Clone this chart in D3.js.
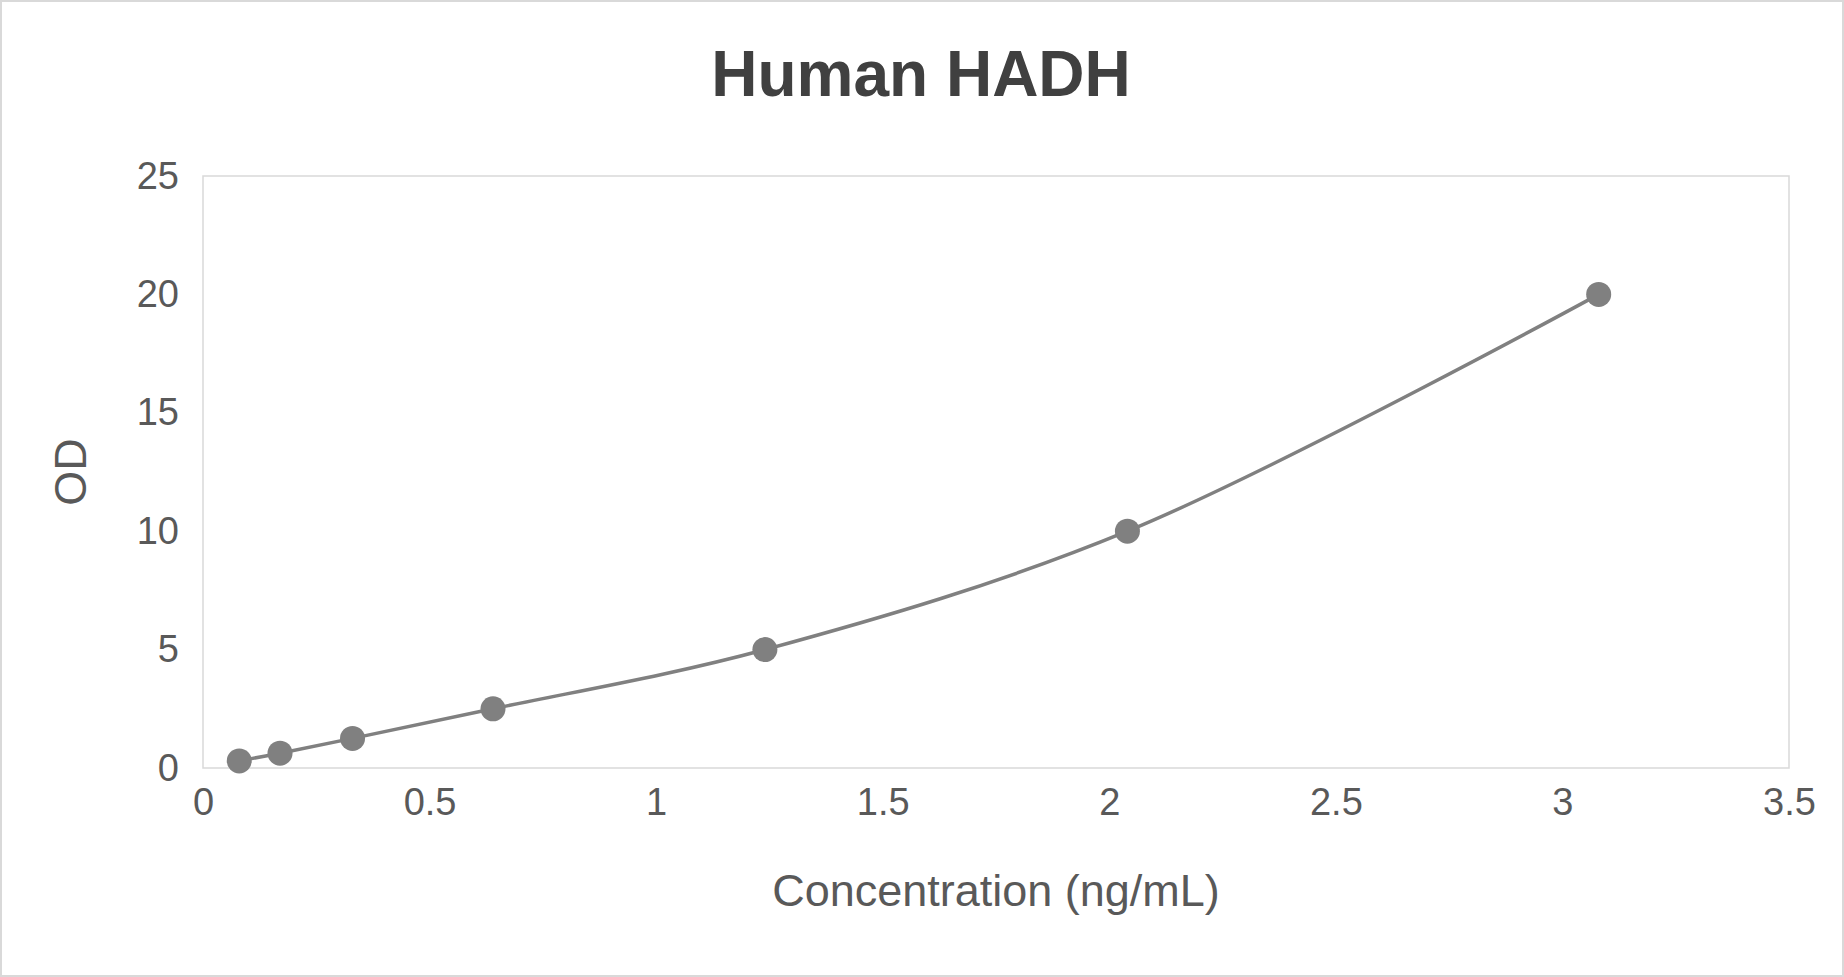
<!DOCTYPE html>
<html><head><meta charset="utf-8">
<script src="https://cdn.jsdelivr.net/npm/d3@7"></script>
<style>body{margin:0;background:#fff;font-family:"Liberation Sans",Arial,sans-serif}</style>
</head><body><svg id="c" width="1844" height="977"></svg>
<script>
const concentration = [0.08, 0.17, 0.33, 0.64, 1.24, 2.04, 3.08];
const od = [0.3, 0.625, 1.25, 2.5, 5, 10, 20];
const xTicks = [0, 0.5, 1, 1.5, 2, 2.5, 3, 3.5];
const yTicks = [0, 5, 10, 15, 20, 25];

const svg = d3.select("#c");
svg.append("rect").attr("x",1).attr("y",1).attr("width",1842).attr("height",975).attr("fill","#fff").attr("stroke","#d9d9d9").attr("stroke-width",2);
const L=203,R=1789,T=176,B=768;
const x=d3.scaleLinear().domain([0,3.5]).range([L,R]);
const y=d3.scaleLinear().domain([0,25]).range([B,T]);
svg.append("rect").attr("x",L).attr("y",T).attr("width",R-L).attr("height",B-T).attr("fill","none").attr("stroke","#d9d9d9").attr("stroke-width",1.5);
const gx=svg.append("g").attr("transform",`translate(0,${B})`).call(d3.axisBottom(x).tickValues(xTicks).tickFormat(d3.format("")).tickSize(0).tickPadding(20));
const gy=svg.append("g").attr("transform",`translate(${L},0)`).call(d3.axisLeft(y).tickValues(yTicks).tickSize(0).tickPadding(24));
[gx,gy].forEach(g=>{g.select(".domain").remove();g.selectAll("text").attr("font-size",38).attr("fill","#595959").attr("font-family","Liberation Sans, Arial");});
svg.append("text").attr("x",921).attr("y",96).attr("text-anchor","middle").attr("font-size",64).attr("font-weight","bold").attr("fill","#404040").text("Human HADH");
svg.append("text").attr("x",996).attr("y",906).attr("text-anchor","middle").attr("font-size",45).attr("fill","#595959").text("Concentration (ng/mL)");
svg.append("text").attr("transform",`translate(86,${(T+B)/2}) rotate(-90)`).attr("text-anchor","middle").attr("font-size",45).attr("fill","#595959").text("OD");
const pts=concentration.map((c,i)=>[c,od[i]]);
svg.append("path").datum(pts).attr("d",d3.line().x(d=>x(d[0])).y(d=>y(d[1])).curve(d3.curveCatmullRom.alpha(0.5))).attr("fill","none").attr("stroke","#808080").attr("stroke-width",3.5);
svg.selectAll("circle.p").data(pts).join("circle").attr("cx",d=>x(d[0])).attr("cy",d=>y(d[1])).attr("r",12.5).attr("fill","#808080");
</script></body></html>
